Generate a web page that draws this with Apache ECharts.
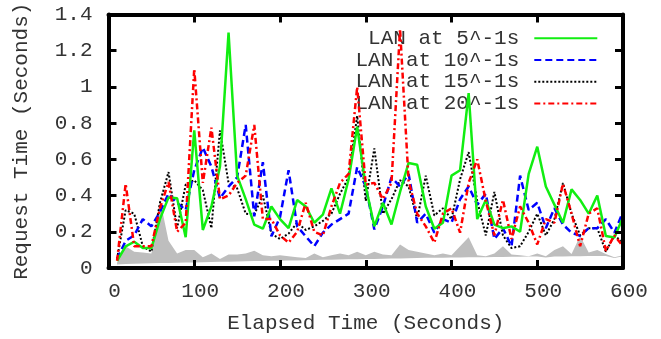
<!DOCTYPE html>
<html>
<head>
<meta charset="utf-8">
<script src="https://cdn.jsdelivr.net/npm/echarts@6/dist/echarts.min.js"></script>
<style>html,body{margin:0;padding:0;background:#fff;}#c{width:661px;height:339px;}</style>
</head>
<body>
<div id="c"></div>
<script>
var times = [10,20,30,40,50,60,70,80,90,100,110,120,130,140,150,160,170,180,190,200,210,220,230,240,250,260,270,280,290,300,310,320,330,340,350,360,370,380,390,400,410,420,430,440,450,460,470,480,490,500,510,520,530,540,550,560,570,580,590,600];
var lan5 = [0.04,0.12,0.145,0.11,0.11,0.27,0.39,0.385,0.17,0.76,0.21,0.34,0.56,1.30,0.51,0.38,0.24,0.217,0.34,0.27,0.22,0.375,0.34,0.25,0.295,0.44,0.30,0.49,0.78,0.45,0.23,0.36,0.24,0.42,0.58,0.57,0.34,0.217,0.25,0.51,0.54,0.966,0.27,0.376,0.24,0.22,0.23,0.20,0.52,0.67,0.45,0.35,0.25,0.434,0.376,0.30,0.40,0.177,0.168,0.28];
var lan10 = [0.05,0.15,0.18,0.27,0.23,0.31,0.41,0.36,0.32,0.54,0.665,0.56,0.385,0.45,0.50,0.79,0.285,0.585,0.175,0.28,0.54,0.23,0.175,0.12,0.195,0.24,0.27,0.30,0.557,0.45,0.213,0.34,0.50,0.45,0.52,0.25,0.30,0.195,0.27,0.25,0.38,0.45,0.35,0.41,0.16,0.22,0.12,0.51,0.32,0.36,0.22,0.33,0.24,0.195,0.177,0.22,0.22,0.27,0.195,0.31];
var lan15 = [0.05,0.32,0.30,0.12,0.09,0.36,0.53,0.22,0.46,0.485,0.43,0.22,0.76,0.47,0.44,0.30,0.295,0.40,0.19,0.16,0.19,0.25,0.21,0.23,0.26,0.30,0.41,0.50,0.84,0.37,0.66,0.30,0.38,0.485,0.45,0.27,0.51,0.29,0.33,0.27,0.49,0.64,0.37,0.18,0.42,0.18,0.11,0.12,0.20,0.30,0.18,0.27,0.47,0.30,0.18,0.22,0.22,0.09,0.18,0.14];
var lan20 = [0.04,0.465,0.12,0.12,0.12,0.33,0.475,0.20,0.25,1.10,0.47,0.775,0.38,0.40,0.47,0.51,0.79,0.27,0.27,0.18,0.14,0.20,0.36,0.20,0.18,0.34,0.47,0.52,1.0,0.46,0.47,0.38,0.47,1.32,0.48,0.30,0.23,0.14,0.30,0.33,0.195,0.47,0.60,0.37,0.18,0.376,0.16,0.34,0.25,0.13,0.27,0.25,0.465,0.30,0.12,0.30,0.33,0.095,0.18,0.12];
var bandLow = [0.02,0.022,0.024,0.025,0.026,0.027,0.028,0.029,0.03,0.031,0.032,0.033,0.034,0.035,0.036,0.037,0.038,0.039,0.04,0.04,0.041,0.042,0.043,0.044,0.045,0.046,0.047,0.048,0.049,0.05,0.05,0.051,0.052,0.053,0.054,0.055,0.056,0.056,0.057,0.058,0.058,0.059,0.06,0.06,0.061,0.061,0.062,0.062,0.063,0.063,0.058,0.064,0.064,0.065,0.065,0.066,0.066,0.066,0.055,0.065];
var bandHigh = [0.03,0.12,0.09,0.085,0.08,0.38,0.15,0.08,0.10,0.10,0.06,0.08,0.05,0.075,0.075,0.08,0.095,0.07,0.065,0.07,0.065,0.06,0.055,0.08,0.06,0.07,0.08,0.07,0.09,0.07,0.09,0.075,0.07,0.13,0.10,0.09,0.08,0.07,0.08,0.07,0.12,0.17,0.07,0.065,0.08,0.12,0.075,0.07,0.065,0.08,0.065,0.10,0.12,0.077,0.177,0.086,0.10,0.077,0.06,0.07];
var names = ['LAN at 5^-1s','LAN at 10^-1s','LAN at 15^-1s','LAN at 20^-1s'];
var xTicks = [0,100,200,300,400,500,600];
var yTicks = [0,0.2,0.4,0.6,0.8,1,1.2,1.4];

function pairs(arr){ return times.map(function(t,i){ return [t, arr[i]]; }); }

var FONT = 'Liberation Mono';
var chart = echarts.init(document.getElementById('c'), null, {renderer:'canvas'});
var axisCommon = {
  z:10,
  axisLine:{show:true,onZero:false,lineStyle:{color:'#000',width:4}},
  axisTick:{show:true,inside:true,length:8,lineStyle:{color:'#000',width:3}},
  splitLine:{show:false}
};
chart.setOption({
  animation:false,
  backgroundColor:'#fff',
  grid:{left:108.5,right:38,top:14.5,bottom:66.5},
  legend:{
    data:names, orient:'vertical', right:62.7, top:27.5, align:'right', padding:0,
    itemWidth:63, itemHeight:10, itemGap:0,
    itemStyle:{opacity:0},
    textStyle:{fontFamily:FONT,fontSize:21,color:'#333',width:165,align:'right',lineHeight:21.7,padding:[0,10,0,0]}
  },
  xAxis:[
    Object.assign({type:'value',min:0,max:600,interval:100,position:'bottom',
      name:'Elapsed Time (Seconds)',nameLocation:'middle',nameGap:45,
      nameTextStyle:{fontFamily:FONT,fontSize:21,color:'#333'},
      axisLabel:{fontFamily:FONT,fontSize:21,color:'#333',margin:13,padding:[0,0,0,12]}},axisCommon),
    Object.assign({type:'value',min:0,max:600,interval:100,position:'top',axisLabel:{show:false}},axisCommon)
  ],
  yAxis:[
    Object.assign({type:'value',min:0,max:1.4,interval:0.2,position:'left',
      name:'Request Time (Seconds)',nameLocation:'middle',nameGap:77,
      nameTextStyle:{fontFamily:FONT,fontSize:21,color:'#333'},
      axisLabel:{fontFamily:FONT,fontSize:21,color:'#333',margin:16}},axisCommon),
    Object.assign({type:'value',min:0,max:1.4,interval:0.2,position:'right',axisLabel:{show:false}},axisCommon)
  ],
  series:[
    {name:'bandHigh',type:'line',data:pairs(bandHigh),symbol:'none',lineStyle:{width:0,opacity:0},areaStyle:{color:'#bebebe',opacity:1},silent:true,z:1},
    {name:'bandLow',type:'line',data:pairs(bandLow),symbol:'none',lineStyle:{width:0,opacity:0},areaStyle:{color:'#ffffff',opacity:1},silent:true,z:1},
    {name:names[0],type:'line',data:pairs(lan5),symbol:'none',color:'#11ee11',lineStyle:{color:'#11ee11',width:2.5,type:'solid'},z:5},
    {name:names[1],type:'line',data:pairs(lan10),symbol:'none',color:'#0000ff',lineStyle:{color:'#0000ff',width:2.5,type:[7,4]},z:4},
    {name:names[2],type:'line',data:pairs(lan15),symbol:'none',color:'#000000',lineStyle:{color:'#000',width:2,type:[2,2]},z:3},
    {name:names[3],type:'line',data:pairs(lan20),symbol:'none',color:'#ff0000',lineStyle:{color:'#ff0000',width:2.5,type:[6,3,2,3]},z:6}
  ]
});
</script>
</body>
</html>
